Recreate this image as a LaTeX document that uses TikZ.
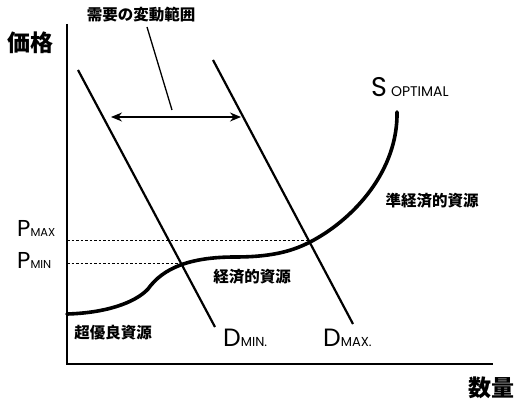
\documentclass[tikz,border=0pt]{standalone}
\usepackage{fontspec}
\usetikzlibrary{arrows.meta}
\newfontfamily\cjk{Noto Sans CJK JP}
\newfontfamily\lat{Poppins}
\tikzset{
  jp/.style={inner sep=0pt, font=\cjk\bfseries\fontsize{15.5}{16}\selectfont},
  jpbig/.style={inner sep=0pt, font=\cjk\bfseries\fontsize{23}{24}\selectfont},
  lab/.style={inner sep=0pt, anchor=base west, font=\lat},
  dline/.style={line width=2.2pt},
  axis/.style={line width=1.4pt},
  guide/.style={line width=0.8pt, dash pattern=on 2.5pt off 2pt},
  supply/.style={line width=3.6pt, line cap=round, line join=round},
}
\begin{document}
\begin{tikzpicture}[x=1pt,y=-1pt]
\useasboundingbox (0,0) rectangle (517,401);
% axes
\coordinate (top) at (67,24);
\coordinate (orig) at (67,364);
\coordinate (xend) at (493,364);
\draw[axis] (top) -- (orig) -- (xend);
% demand lines
\coordinate (dmin1) at (78,70);
\coordinate (dmin2) at (215,327);
\coordinate (dmax1) at (213,60);
\coordinate (dmax2) at (353,324);
\draw[dline] (dmin1) -- (dmin2);
\draw[dline] (dmax1) -- (dmax2);
% dashed guides
\coordinate (pmaxa) at (67,240);
\coordinate (pmaxb) at (311,240);
\coordinate (pmina) at (67,263);
\coordinate (pminb) at (182,263);
\draw[guide] (pmaxa) -- (pmaxb);
\draw[guide] (pmina) -- (pminb);
% supply curve
\coordinate (s0) at (67,314);
\coordinate (s1) at (148,289);
\coordinate (s2) at (235,257);
\coordinate (s3) at (312,241);
\coordinate (s4) at (397,112);
\draw[supply] (s0) .. controls (105,313) and (135,303) .. (s1)
  .. controls (163,268) and (190,257) .. (s2)
  .. controls (275,257) and (295,250) .. (s3)
  .. controls (355,218) and (398,170) .. (s4);
% demand range label
\node[jp] (range) at (141,15) {需要の変動範囲};
\coordinate (lead1) at (147,27);
\coordinate (lead2) at (172,110);
\draw[line width=1.3pt] (lead1) -- (lead2);
\coordinate (arrl) at (111,117);
\coordinate (arrr) at (241,117);
\draw[line width=1.3pt, {Stealth[length=11pt,width=9pt]}-{Stealth[length=11pt,width=9pt]}] (arrl) -- (arrr);
% axis labels
\node[jpbig] (price) at (31,43) {価格};
\node[jpbig] (qty) at (491,388) {数量};
% region labels
\node[jp] (r1) at (113,333) {超優良資源};
\node[jp] (r2) at (252,277) {経済的資源};
\node[jp] (r3) at (432,201) {準経済的資源};
% latin labels
\node[lab] (pmax) at (17,236) {{\fontsize{23}{23}\selectfont P}{\fontsize{11.5}{12}\selectfont MAX}};
\node[lab] (pmin) at (17,268) {{\fontsize{23}{23}\selectfont P}{\fontsize{11.5}{12}\selectfont MIN}};
\node[lab] (dmin) at (223,346) {{\fontsize{25}{25}\selectfont D}{\fontsize{13}{13}\selectfont MIN.}};
\node[lab] (dmax) at (323,346) {{\fontsize{25}{25}\selectfont D}{\fontsize{13}{13}\selectfont MAX.}};
\node[lab] (sopt) at (371,97) {{\fontsize{27}{27}\selectfont S}\hspace{4pt}{\fontsize{14}{14}\selectfont OPTIMAL}};
\end{tikzpicture}
\end{document}
